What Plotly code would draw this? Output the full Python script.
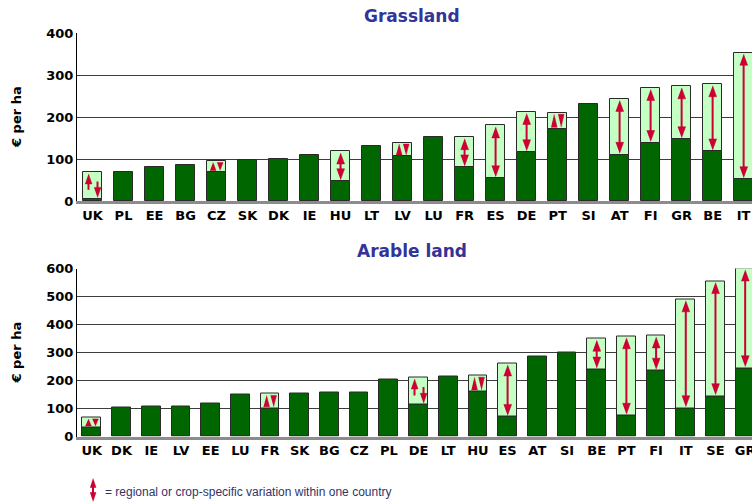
import plotly.graph_objects as go

# ---------------- data ----------------
grass_cats = ["UK", "PL", "EE", "BG", "CZ", "SK", "DK", "IE", "HU", "LT", "LV",
              "LU", "FR", "ES", "DE", "PT", "SI", "AT", "FI", "GR", "BE", "IT"]
grass_base = [5, 68, 80, 85, 69, 97, 101, 110, 47, 130, 106,
              152, 80, 54, 116, 172, 231, 110, 138, 147, 118, 52]
grass_top = [68, None, None, None, 95, None, None, None, 118, None, 139,
             None, 152, 180, 212, 210, None, 243, 269, 273, 278, 353]
grass_ticks = [0, 100, 200, 300, 400]

arable_cats = ["UK", "DK", "IE", "LV", "EE", "LU", "FR", "SK", "BG", "CZ", "PL", "DE",
               "LT", "HU", "ES", "AT", "SI", "BE", "PT", "FI", "IT", "SE", "GR"]
arable_base = [32, 102, 108, 108, 119, 151, 101, 155, 157, 157, 204, 113,
               215, 161, 70, 285, 301, 239, 74, 235, 101, 144, 244]
arable_top = [68, None, None, None, None, None, 152, None, None, None, None, 211,
              None, 217, 261, None, None, 349, 358, 361, 490, 555, 600]
arable_ticks = [0, 100, 200, 300, 400, 500, 600]

legend_text = "= regional or crop-specific variation within one country"

# ---------------- style / layout ----------------
W, H = 752, 503
ML, MT = 77, 33
PW, PH = W - ML, H - MT

DARK = "#006600"
LIGHT = "#c4ffc4"
RED = "#cc0033"
EDGE = "#2a2a2a"
TITLE = "#333399"
FONT = "DejaVu Sans"


def paper_y(pix):
    return 1 - (pix - MT) / PH


def paper_x(pix):
    return (pix - ML) / PW


def head(hx, hy, x, tip, direction, hw, hh, pxx, pxy):
    b = tip - direction * hh / pxy
    hx.extend([x - hw / pxx, x + hw / pxx, x, None])
    hy.extend([b, b, tip, None])
    return b


def shaft(sx, sy, x, y0, y1):
    sx.extend([x, x, None])
    sy.extend([y0, y1, None])


def arrow_paths(base, top, pxx, pxy):
    sx, sy, hx, hy = [], [], [], []
    for i, (lo, hi) in enumerate(zip(base, top)):
        if hi is None:
            continue
        span = (hi - lo) * pxy
        pad = 1.5 / pxy
        if span < 20:
            th = span - 3
            head(hx, hy, i - 3.5 / pxx, hi - pad, +1, 3, th, pxx, pxy)
            head(hx, hy, i + 3.5 / pxx, lo + pad, -1, 3, th, pxx, pxy)
        elif span < 28.5:
            L = 0.6 * span
            xl, xr = i - 4 / pxx, i + 5 / pxx
            b = head(hx, hy, xl, hi - pad, +1, 3.5, 10, pxx, pxy)
            shaft(sx, sy, xl, hi - pad - L / pxy, b + 1 / pxy)
            b = head(hx, hy, xr, lo + pad, -1, 3.5, 10, pxx, pxy)
            shaft(sx, sy, xr, lo + pad + L / pxy, b - 1 / pxy)
        else:
            b1 = head(hx, hy, i, hi - pad, +1, 4, 11, pxx, pxy)
            b2 = head(hx, hy, i, lo + pad, -1, 4, 11, pxx, pxy)
            shaft(sx, sy, i, b2 - 1 / pxy, b1 + 1 / pxy)
    return sx, sy, hx, hy


panels = [
    dict(cats=grass_cats, base=grass_base, top=grass_top, ticks=grass_ticks,
         title="Grassland", pix=(201, 33), xmax=21.27, bw=0.6, ty=15.5),
    dict(cats=arable_cats, base=arable_base, top=arable_top, ticks=arable_ticks,
         title="Arable land", pix=(436.5, 268.5), xmax=22.23, bw=0.63, ty=251),
]

fig = go.Figure()
annotations = []
layout_axes = {}

for k, p in enumerate(panels, start=1):
    xa = "x" if k == 1 else f"x{k}"
    ya = "y" if k == 1 else f"y{k}"
    n = len(p["cats"])
    idx = list(range(n))
    ymax = p["ticks"][-1]
    pxx = PW / (p["xmax"] + 0.5)
    pxy = (p["pix"][0] - p["pix"][1]) / ymax

    fig.add_trace(go.Bar(
        x=idx, y=p["base"], width=p["bw"], xaxis=xa, yaxis=ya,
        marker=dict(color=DARK, line=dict(color=EDGE, width=1)),
        showlegend=False, hoverinfo="skip"))
    fig.add_trace(go.Bar(
        x=idx, y=[(t - b) if t is not None else None for b, t in zip(p["base"], p["top"])],
        base=p["base"], width=p["bw"], xaxis=xa, yaxis=ya,
        marker=dict(color=LIGHT, line=dict(color=EDGE, width=1)),
        showlegend=False, hoverinfo="skip"))

    sx, sy, hx, hy = arrow_paths(p["base"], p["top"], pxx, pxy)
    fig.add_trace(go.Scatter(x=sx, y=sy, mode="lines", xaxis=xa, yaxis=ya,
                             line=dict(color=RED, width=2), showlegend=False,
                             hoverinfo="skip"))
    fig.add_trace(go.Scatter(x=hx, y=hy, mode="lines", fill="toself", fillcolor=RED,
                             xaxis=xa, yaxis=ya, line=dict(color=RED, width=0.5),
                             showlegend=False, hoverinfo="skip"))

    xkey = "xaxis" if k == 1 else f"xaxis{k}"
    ykey = "yaxis" if k == 1 else f"yaxis{k}"
    layout_axes[xkey] = dict(
        domain=[0, 1], anchor=ya, range=[-0.5, p["xmax"]],
        tickmode="array", tickvals=idx, ticktext=p["cats"], ticks="",
        ticklabeloverflow="allow",
        showgrid=False, zeroline=False, showline=True, linecolor="#8c8c8c",
        linewidth=3, tickfont=dict(family=FONT, size=13, color="black", weight="bold"),
        fixedrange=True)
    layout_axes[ykey] = dict(
        domain=[paper_y(p["pix"][0]), paper_y(p["pix"][1])], anchor=xa,
        range=[0, ymax], tickmode="array", tickvals=p["ticks"], ticks="",
        showgrid=True, gridcolor="#3c3c3c", gridwidth=1, zeroline=False,
        showline=True, linecolor="black", linewidth=1,
        tickfont=dict(family=FONT, size=13, color="black", weight="bold"),
        fixedrange=True)

    annotations.append(dict(
        text=p["title"], xref="paper", yref="paper", x=paper_x(412), y=paper_y(p["ty"]),
        xanchor="center", yanchor="middle", showarrow=False,
        font=dict(family=FONT, size=17, color=TITLE, weight="bold")))
    annotations.append(dict(
        text="€ per ha", xref="paper", yref="paper", x=paper_x(16),
        y=paper_y((p["pix"][0] + p["pix"][1]) / 2), textangle=-90,
        xanchor="center", yanchor="middle", showarrow=False,
        font=dict(family=FONT, size=13, color="black", weight="bold")))

# legend key on its own invisible axes (pixel units)
lsx, lsy, lhx, lhy = [], [], [], []
b1 = head(lhx, lhy, 16, 24.5, +1, 3, 9, 1, 1)
b2 = head(lhx, lhy, 16, 1.5, -1, 3, 9, 1, 1)
shaft(lsx, lsy, 16, b2 - 1, b1 + 1)
fig.add_trace(go.Scatter(x=lsx, y=lsy, mode="lines", xaxis="x3", yaxis="y3",
                         line=dict(color=RED, width=2), showlegend=False, hoverinfo="skip"))
fig.add_trace(go.Scatter(x=lhx, y=lhy, mode="lines", fill="toself", fillcolor=RED,
                         xaxis="x3", yaxis="y3", line=dict(color=RED, width=0.5),
                         showlegend=False, hoverinfo="skip"))
layout_axes["xaxis3"] = dict(domain=[0, 1], anchor="y3", range=[0, PW], visible=False,
                             fixedrange=True)
layout_axes["yaxis3"] = dict(domain=[0, paper_y(470)], anchor="x3", range=[0, 33],
                             visible=False, fixedrange=True)
annotations.append(dict(
    text=legend_text, xref="x3", yref="y3", x=26, y=11.5, xanchor="left",
    yanchor="middle", showarrow=False,
    font=dict(family="Liberation Sans", size=12, color="#333366")))

fig.update_layout(
    width=W, height=H,
    margin=dict(l=ML, r=0, t=MT, b=0, autoexpand=False),
    paper_bgcolor="white", plot_bgcolor="white",
    barmode="overlay", bargap=0,
    annotations=annotations,
    **layout_axes,
)

fig.write_html(
    "out.html",
    config={"displayModeBar": False},
    post_script="document.body.style.margin='0';document.body.style.overflow='hidden';",
)
